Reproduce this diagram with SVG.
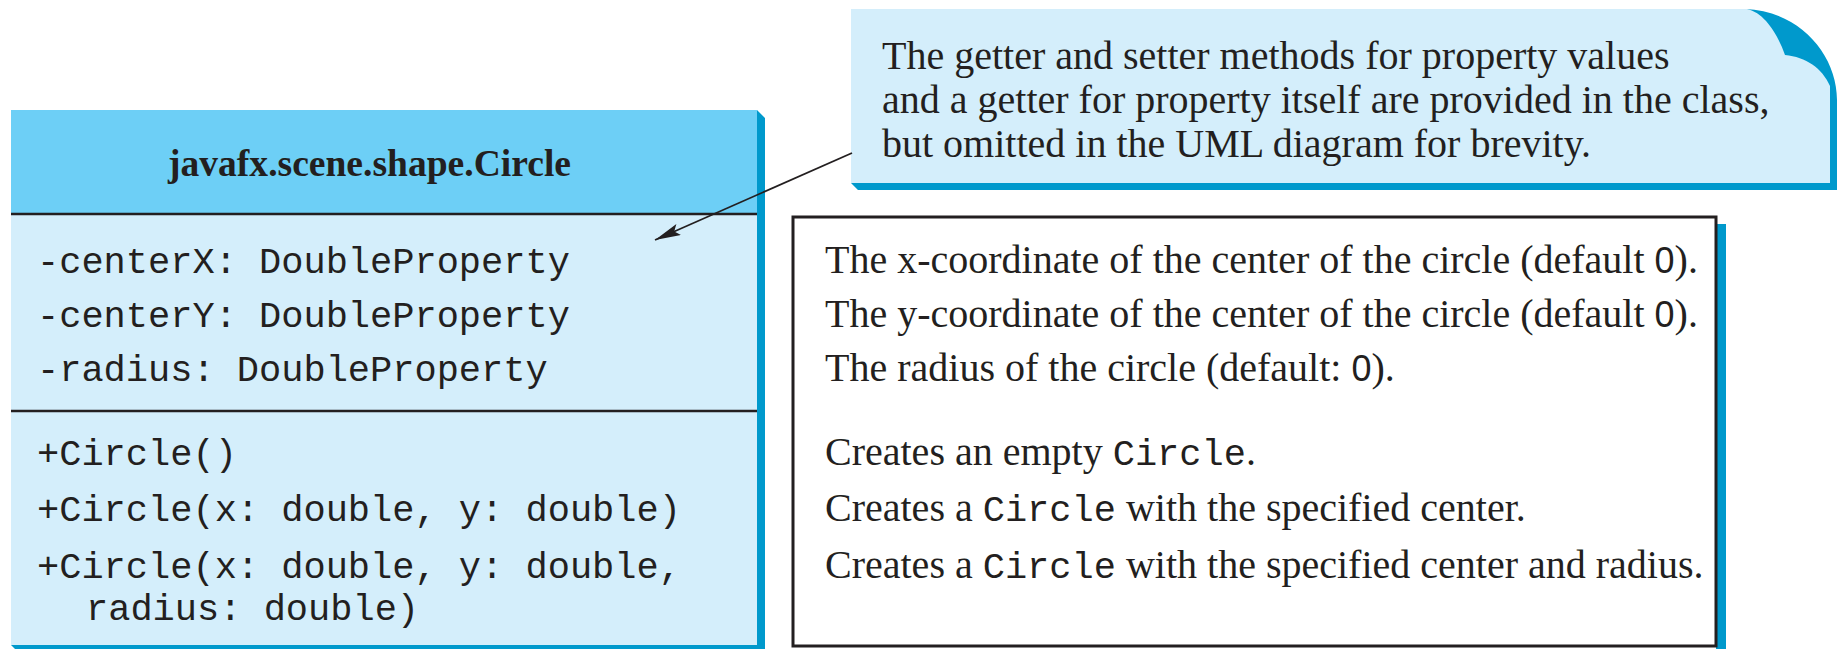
<svg xmlns="http://www.w3.org/2000/svg" width="1837" height="649" viewBox="0 0 1837 649">
<style>
.serif{font-family:"Liberation Serif","Times New Roman",serif;font-size:40px;fill:#231f20}
.mono{font-family:"Liberation Mono","DejaVu Sans Mono",monospace;font-size:37px;fill:#231f20}
.zero{font-family:"Liberation Sans","DejaVu Sans",sans-serif;font-size:36px}
.hdr{font-family:"Liberation Serif","Times New Roman",serif;font-size:37px;font-weight:bold;fill:#231f20}
.shadow{fill:#0099cc}
.light{fill:#d4eefb}
.dark{fill:#6dcff6}
.div{stroke:#231f20;stroke-width:2.5}
</style>
<defs>
<marker id="arr" markerUnits="userSpaceOnUse" viewBox="0 0 26 12" markerWidth="26" markerHeight="12" refX="26" refY="6" orient="auto">
<path d="M0,0 L26,6 L0,12 L5,6 Z" fill="#231f20"/>
</marker>
</defs>

<g id="note">
<path class="shadow" d="M1745,9 C1800,11 1837,55 1837,100 L1837,190 L858,190 L851,183 L1745,183 Z"/>
<path class="light" d="M851,9 L1747,9 C1765,13 1778,35 1785,55 C1806,57 1822,68 1830,86 L1830,183 L851,183 Z"/>
<text class="serif" x="882" y="69">The getter and setter methods for property values</text>
<text class="serif" x="882" y="113">and a getter for property itself are provided in the class,</text>
<text class="serif" x="882" y="157">but omitted in the UML diagram for brevity.</text>
</g>

<g id="circle-class">
<path class="shadow" d="M757,110 L765,118 L765,653 L19,653 L11,645 L757,645 Z"/>
<rect class="dark" x="11" y="110" width="746" height="104"/>
<rect class="light" x="11" y="214" width="746" height="431"/>
<line class="div" x1="11" y1="214" x2="757" y2="214"/>
<line class="div" x1="11" y1="411" x2="757" y2="411"/>
<text class="hdr" x="168" y="176" textLength="403" lengthAdjust="spacingAndGlyphs">javafx.scene.shape.Circle</text>
<text class="mono" x="37" y="273">-centerX: DoubleProperty</text>
<text class="mono" x="37" y="327">-centerY: DoubleProperty</text>
<text class="mono" x="37" y="381">-radius: DoubleProperty</text>
<text class="mono" x="37" y="465">+Circle()</text>
<text class="mono" x="37" y="521">+Circle(x: double, y: double)</text>
<text class="mono" x="37" y="578">+Circle(x: double, y: double,</text>
<text class="mono" x="86" y="620">radius: double)</text>
</g>

<g id="descriptions">
<rect class="shadow" x="1716" y="224" width="10" height="429"/>
<rect x="793" y="217" width="923" height="429" fill="#ffffff" stroke="#231f20" stroke-width="3"/>
<text class="serif" x="825" y="273">The x-coordinate of the center of the circle (default <tspan class="zero">0</tspan>).</text>
<text class="serif" x="825" y="327">The y-coordinate of the center of the circle (default <tspan class="zero">0</tspan>).</text>
<text class="serif" x="825" y="381">The radius of the circle (default: <tspan class="zero">0</tspan>).</text>
<text class="serif" x="825" y="465">Creates an empty <tspan class="mono">Circle</tspan>.</text>
<text class="serif" x="825" y="521">Creates a <tspan class="mono">Circle</tspan> with the specified center.</text>
<text class="serif" x="825" y="578">Creates a <tspan class="mono">Circle</tspan> with the specified center and radius.</text>
</g>

<g id="connectors">
<line x1="852" y1="153" x2="655" y2="240" stroke="#231f20" stroke-width="1.8" marker-end="url(#arr)"/>
</g>
</svg>
